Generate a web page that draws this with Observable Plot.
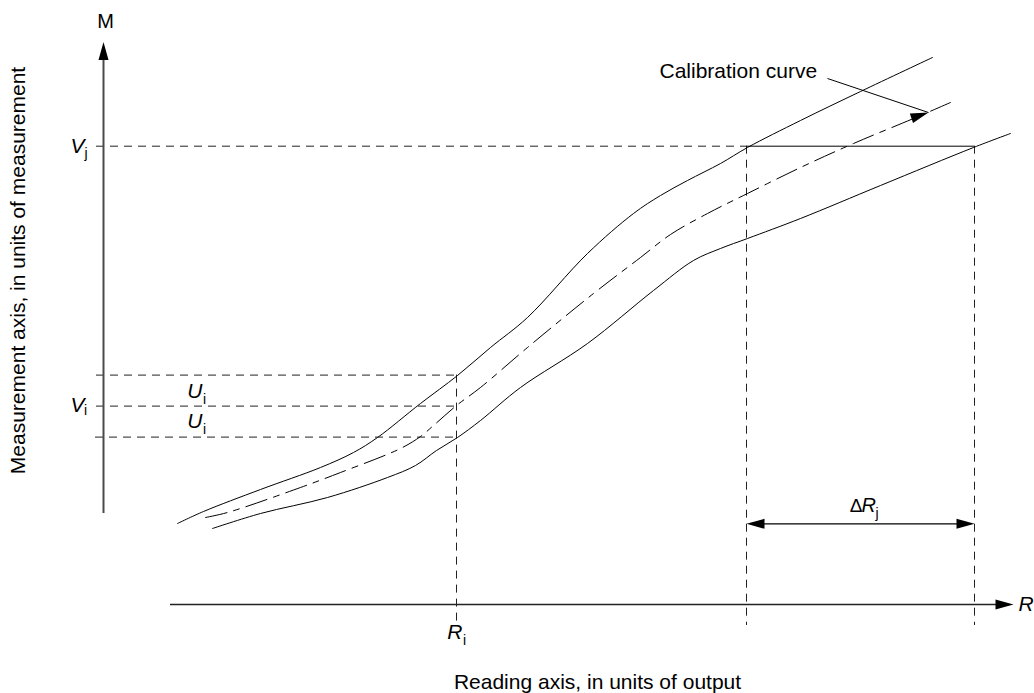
<!DOCTYPE html>
<html>
<head>
<meta charset="utf-8">
<script src="https://cdn.jsdelivr.net/npm/d3@7"></script>
<script src="https://cdn.jsdelivr.net/npm/@observablehq/plot@0.6"></script>
<style>
  body { margin: 0; background: #fff; }
  #chart svg { display: block; }
</style>
</head>
<body>
<div id="chart"></div>
<script>
// Schematic data, in reading units (R) and measurement units (M)
const upperLimit = [
  [177,170],[203,182],[260,204],[320,226],[353,241],[377,256],[420,290],[457,318],
  [490,346],[527,376],[587,440],[633,480],[660,498],[687,513],
  [720,530],[747,546],[800,573],[860,602],[932,636]
];
const calibrationCurve = [
  [205,176],[227,181],[300,206],[340,221],[400,245],[420,257],[433,268],[456,288],
  [480,306],[527,346],[593,400],[640,436],[670,459],[707,480],[747,500],[800,526],
  [853,550],[913,575],[950,591]
];
const lowerLimit = [
  [212,165],[260,180],[327,196],[387,216],[415,228],[436,243],[457,256],[480,273],
  [520,306],[587,350],[653,403],[693,433],[720,445],[747,455],[800,475],[880,508],
  [973,546],[1010,560]
];

// Reading values and measurement values
const Ri = 456, Rj = 746, RjUpper = 974;
const Vj = 547.3, Vi = 287.4, Ui = 31;
// Axes (origin and extent, in the same units)
const axisR = 103, axisM = 89;
const mAxisStart = 180, mAxisTip = 651.5;
const rAxisStart = 170, rAxisTip = 1013;
const tickStart = 96, guideBottom = 68;
const deltaM = 169.7;
const calloutFrom = [827, 615], calloutTo = [928, 581];

const hGuides = [
  {m: Vj, r1: tickStart, r2: Rj},
  {m: Vi + Ui, r1: tickStart, r2: Ri},
  {m: Vi, r1: tickStart, r2: Ri},
  {m: Vi - Ui, r1: tickStart - 1, r2: Ri}
];
const vGuides = [
  {r: Ri, m1: Vi + Ui, m2: guideBottom},
  {r: Rj, m1: Vj, m2: guideBottom},
  {r: RjUpper, m1: Vj, m2: guideBottom}
];

// filled arrowhead symbol: tip at origin, pointing up
const arrowHead = {
  draw(ctx, size) {
    const r = Math.sqrt(size / Math.PI);
    const L = 3.6 * r, W = r;
    ctx.moveTo(0, 0);
    ctx.lineTo(-W, L);
    ctx.lineTo(W, L);
    ctx.closePath();
  }
};
const heads = [
  {r: axisR, m: mAxisTip, a: 0},
  {r: rAxisTip, m: axisM, a: 90},
  {r: Rj, m: deltaM, a: -90},
  {r: RjUpper, m: deltaM, a: 90},
  {r: calloutTo[0], m: calloutTo[1],
   a: 180 - Math.atan2(calloutTo[0] - calloutFrom[0], calloutTo[1] - calloutFrom[1]) * 180 / Math.PI}
];

const font = "'Liberation Sans', Arial, Helvetica, sans-serif";
const pts = a => a.map(([r, m]) => ({r, m}));

const letters = [
  {r: 84, m: 547.4, t: "V"},
  {r: 84, m: 288.7, t: "V"},
  {r: 202, m: 302, t: "U"},
  {r: 202, m: 272.1, t: "U"},
  {r: 462, m: 61, t: "R"}
];
const subs = [
  {r: 84, m: 539.5, t: "j"},
  {r: 83.5, m: 282.5, t: "i"},
  {r: 202.5, m: 294.2, t: "i"},
  {r: 202.5, m: 264.2, t: "i"},
  {r: 462.5, m: 52.5, t: "i"},
  {r: 875, m: 180, t: "j"}
];

const chart = Plot.plot({
  width: 1034,
  height: 693,
  margin: 0,
  x: {domain: [0, 1034], range: [0, 1034], axis: null},
  y: {domain: [0, 693], range: [693, 0], axis: null},
  style: {fontFamily: font, background: "#fff", color: "#000"},
  marks: [
    // dashed guide lines
    Plot.ruleY(hGuides, {y: "m", x1: "r1", x2: "r2", stroke: "#222", strokeWidth: 1, strokeDasharray: "8,6"}),
    Plot.ruleX(vGuides, {x: "r", y1: "m1", y2: "m2", stroke: "#222", strokeWidth: 1, strokeDasharray: "8,6"}),
    // solid horizontal at Vj
    Plot.ruleY([Vj], {x1: Rj, x2: RjUpper, stroke: "#000", strokeWidth: 1}),
    // axes
    Plot.ruleX([axisR], {y1: mAxisStart, y2: mAxisTip - 12, stroke: "#4a4a4a", strokeWidth: 2}),
    Plot.ruleY([axisM], {x1: rAxisStart, x2: rAxisTip - 12, stroke: "#222", strokeWidth: 1.3}),
    // curves
    Plot.line(pts(upperLimit), {x: "r", y: "m", curve: "catmull-rom", stroke: "#000", strokeWidth: 1}),
    Plot.line(pts(lowerLimit), {x: "r", y: "m", curve: "catmull-rom", stroke: "#000", strokeWidth: 1}),
    Plot.line(pts(calibrationCurve), {x: "r", y: "m", curve: "catmull-rom", stroke: "#000", strokeWidth: 1, strokeDasharray: "22,7,6,7"}),
    // delta R arrow line
    Plot.ruleY([deltaM], {x1: Rj + 10, x2: RjUpper - 10, stroke: "#000", strokeWidth: 1.2}),
    // callout line
    Plot.link([{x1: calloutFrom[0], y1: calloutFrom[1], x2: calloutTo[0], y2: calloutTo[1]}],
      {x1: "x1", y1: "y1", x2: "x2", y2: "y2", stroke: "#000", strokeWidth: 1}),
    // arrowheads
    Plot.dot(heads, {x: "r", y: "m", rotate: "a", symbol: arrowHead, r: 5, fill: "#000", stroke: "none"}),
    // texts
    Plot.text(["M"], {x: 105, y: 671.5, text: d => d, fontSize: 20, textAnchor: "middle"}),
    Plot.text(["Calibration curve"], {x: 659, y: 622, text: d => d, fontSize: 21, textAnchor: "start"}),
    Plot.text(letters, {x: "r", y: "m", text: "t", fontSize: 21, fontStyle: "italic", textAnchor: "end"}),
    Plot.text(subs, {x: "r", y: "m", text: "t", fontSize: 14, textAnchor: "start"}),
    Plot.text(["Δ"], {x: 862, y: 187.7, text: d => d, fontSize: 19, textAnchor: "end"}),
    Plot.text(["R"], {x: 861, y: 187.7, text: d => d, fontSize: 20, fontStyle: "italic", textAnchor: "start"}),
    Plot.text(["R"], {x: 1018, y: 89, text: d => d, fontSize: 21, fontStyle: "italic", textAnchor: "start"}),
    Plot.text(["Reading axis, in units of output"], {x: 597, y: 11, text: d => d, fontSize: 21, textAnchor: "middle"}),
    Plot.text(["Measurement axis, in units of measurement"], {x: 18, y: 423, text: d => d, fontSize: 21, rotate: -90, textAnchor: "middle"})
  ]
});
document.getElementById("chart").appendChild(chart);
</script>
</body>
</html>
